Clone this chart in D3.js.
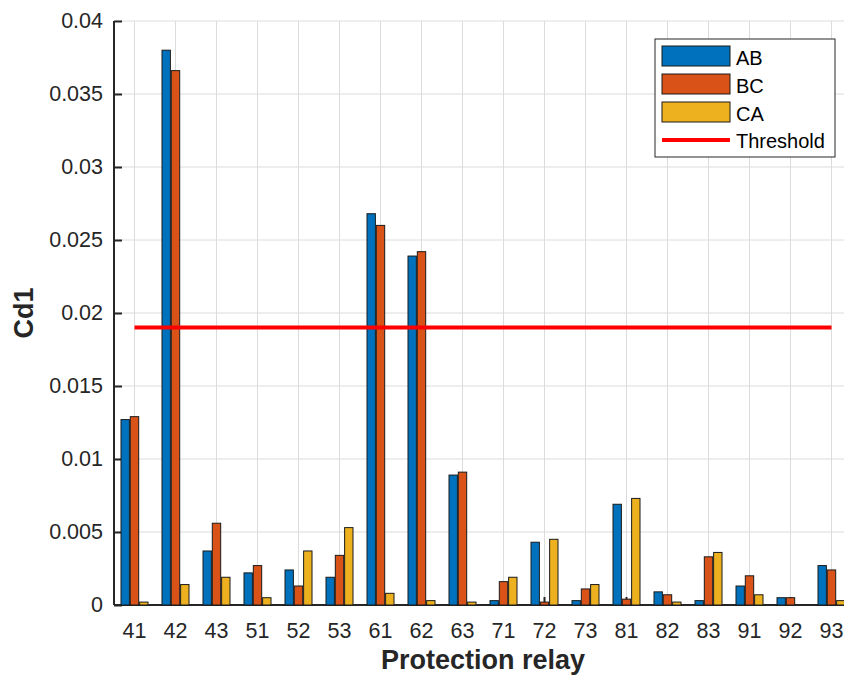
<!DOCTYPE html>
<html>
<head>
<meta charset="utf-8">
<script src="https://cdn.jsdelivr.net/npm/d3@7"></script>
<style>
  body { margin: 0; background: #fff; }
  text { font-family: Arial, "Liberation Sans", sans-serif; }
</style>
</head>
<body>
<div id="chart"></div>
<script>
// relay names on the x axis
let relays = ['41', '42', '43', '51', '52', '53', '61', '62', '63', '71', '72', '73', '81', '82', '83', '91', '92', '93'];

// Cd1 values per phase pair
let valuesAB = [0.0127, 0.0380, 0.0037, 0.0022, 0.0024, 0.0019, 0.0268, 0.0239, 0.0089, 0.0003, 0.0043, 0.0003, 0.0069, 0.0009, 0.0003, 0.0013, 0.0005, 0.0027];
let valuesBC = [0.0129, 0.0366, 0.0056, 0.0027, 0.0013, 0.0034, 0.0260, 0.0242, 0.0091, 0.0016, 0.0002, 0.0011, 0.0004, 0.0007, 0.0033, 0.0020, 0.0005, 0.0024];
let valuesCA = [0.0002, 0.0014, 0.0019, 0.0005, 0.0037, 0.0053, 0.0008, 0.0003, 0.0002, 0.0019, 0.0045, 0.0014, 0.0073, 0.0002, 0.0036, 0.0007, 0.0000, 0.0003];

let threshold = 0.019;
let yTicks = [0, 0.005, 0.01, 0.015, 0.02, 0.025, 0.03, 0.035, 0.04];

let seriesNames = ['AB', 'BC', 'CA'];
let seriesColors = ['#0072BD', '#D95319', '#EDB120'];

let width = 844, height = 676;
let plotLeft = 114, plotTop = 21, plotBottom = 605;
let step = 41;
let plotRight = plotLeft + relays.length * step;

let svg = d3.select('#chart').append('svg')
    .attr('width', width)
    .attr('height', height);

let x = d3.scaleBand()
    .domain(relays)
    .range([plotLeft, plotRight]);

let inner = d3.scaleBand()
    .domain(seriesNames)
    .range([-13.5, 13.5])
    .paddingInner(0.1);

let y = d3.scaleLinear()
    .domain([0, 0.04])
    .range([plotBottom, plotTop]);

// grid
svg.append('g').selectAll('line').data(yTicks).enter().append('line')
    .attr('x1', plotLeft).attr('x2', plotRight)
    .attr('y1', d => y(d)).attr('y2', d => y(d))
    .attr('stroke', '#dcdcdc').attr('stroke-width', 1);

svg.append('g').selectAll('line').data(relays).enter().append('line')
    .attr('x1', d => x(d) + x.bandwidth() / 2).attr('x2', d => x(d) + x.bandwidth() / 2)
    .attr('y1', plotTop).attr('y2', plotBottom)
    .attr('stroke', '#dcdcdc').attr('stroke-width', 1);

// axes (drawn under the bars, like matlab's default layer)
let yAxis = svg.append('g')
    .attr('transform', `translate(${plotLeft},0)`)
    .call(d3.axisLeft(y).tickValues(yTicks).tickSize(-8).tickPadding(11).tickFormat(d => d3.format('')(+d.toFixed(3))));

let xAxis = svg.append('g')
    .attr('transform', `translate(0,${plotBottom})`)
    .call(d3.axisBottom(x).tickSize(-8).tickPadding(18));

[yAxis, xAxis].forEach(function (a) {
    a.select('.domain').attr('stroke', '#262626').attr('stroke-width', 2);
    a.selectAll('.tick line').attr('stroke', '#262626').attr('stroke-width', 2);
    a.selectAll('.tick text').attr('fill', '#262626').style('font-size', '21.5px')
        .style('font-family', 'Arial, "Liberation Sans", sans-serif');
});
yAxis.select('.domain').attr('d', `M0,${plotBottom}V${plotTop}`);
xAxis.select('.domain').attr('d', `M${plotLeft},0H${plotRight}`);

// bars
let table = relays.map(function (r, i) {
    return {relay: r, AB: valuesAB[i], BC: valuesBC[i], CA: valuesCA[i]};
});

let groups = svg.append('g').selectAll('g').data(table).enter().append('g')
    .attr('transform', d => `translate(${x(d.relay) + x.bandwidth() / 2},0)`);

groups.selectAll('rect').data(d => seriesNames.map(k => ({key: k, value: d[k]})))
    .enter().append('rect')
    .attr('x', d => inner(d.key))
    .attr('width', inner.bandwidth())
    .attr('y', d => y(d.value))
    .attr('height', d => plotBottom - y(d.value))
    .attr('fill', (d, i) => seriesColors[i])
    .attr('stroke', '#1a1a1a')
    .attr('stroke-width', 1);

// threshold line
svg.append('line')
    .attr('x1', x(relays[0]) + x.bandwidth() / 2)
    .attr('x2', x(relays[relays.length - 1]) + x.bandwidth() / 2)
    .attr('y1', y(threshold)).attr('y2', y(threshold))
    .attr('stroke', '#ff0000').attr('stroke-width', 4);

// axis labels
svg.append('text')
    .attr('x', (plotLeft + plotRight) / 2).attr('y', 669)
    .attr('text-anchor', 'middle')
    .attr('fill', '#262626')
    .style('font-size', '27px').style('font-weight', 'bold')
    .text('Protection relay');

svg.append('text')
    .attr('transform', `translate(33,${(plotTop + plotBottom) / 2}) rotate(-90)`)
    .attr('text-anchor', 'middle')
    .attr('fill', '#262626')
    .style('font-size', '27px').style('font-weight', 'bold')
    .text('Cd1');

// legend
let legend = svg.append('g').attr('transform', 'translate(655,39)');
legend.append('rect')
    .attr('width', 180).attr('height', 118)
    .attr('fill', '#fff').attr('stroke', '#262626').attr('stroke-width', 1);

seriesNames.forEach(function (name, i) {
    legend.append('rect')
        .attr('x', 7).attr('y', 7 + i * 28)
        .attr('width', 68).attr('height', 20)
        .attr('fill', seriesColors[i]).attr('stroke', '#1a1a1a');
    legend.append('text')
        .attr('x', 81).attr('y', 26 + i * 28)
        .attr('fill', '#000').style('font-size', '20px')
        .text(name);
});
legend.append('line')
    .attr('x1', 7).attr('x2', 75)
    .attr('y1', 101).attr('y2', 101)
    .attr('stroke', '#ff0000').attr('stroke-width', 4);
legend.append('text')
    .attr('x', 81).attr('y', 109)
    .attr('fill', '#000').style('font-size', '20px')
    .text('Threshold');
</script>
</body>
</html>
